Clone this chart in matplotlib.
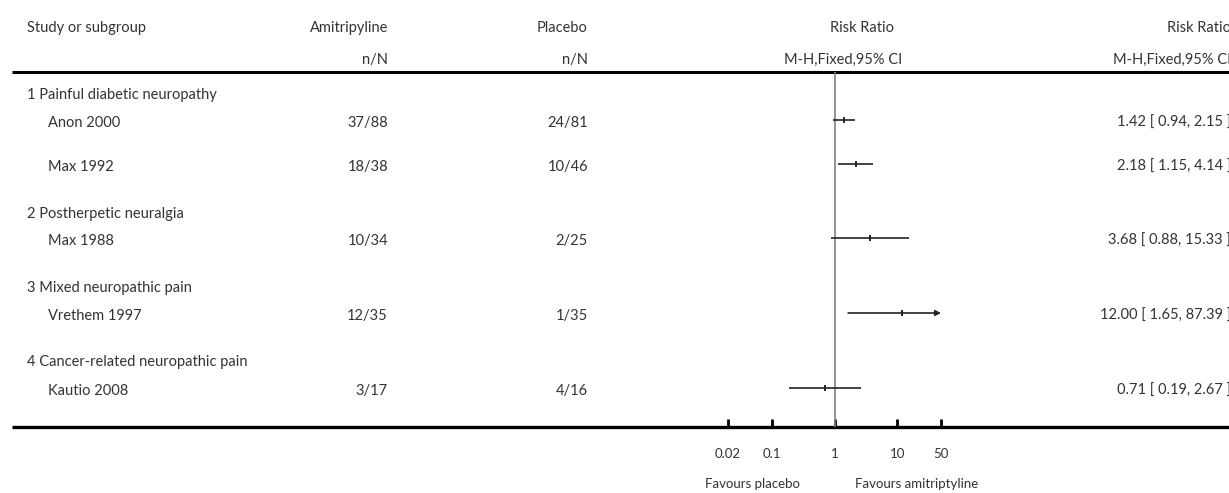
import numpy as np
import matplotlib
matplotlib.use('Agg')
import matplotlib.pyplot as plt

plt.rcParams['font.family'] = ['Lato', 'DejaVu Sans']

# forest plot data: amitriptyline vs placebo, risk ratio (M-H, fixed, 95% CI)
subgroups = ['1 Painful diabetic neuropathy', '2 Postherpetic neuralgia',
             '3 Mixed neuropathic pain', '4 Cancer-related neuropathic pain']
studies = ['Anon 2000', 'Max 1992', 'Max 1988', 'Vrethem 1997', 'Kautio 2008']
ami_n = ['37/88', '18/38', '10/34', '12/35', '3/17']
pla_n = ['24/81', '10/46', '2/25', '1/35', '4/16']
rr = [1.42, 2.18, 3.68, 12.00, 0.71]
rr_lo = [0.94, 1.15, 0.88, 1.65, 0.19]
rr_hi = [2.15, 4.14, 15.33, 87.39, 2.67]
ticks = [0.02, 0.1, 1, 10, 50]
tick_labels = ['0.02', '0.1', '1', '10', '50']

# layout in pixels (figure is 1229 x 493 at 100 dpi)
W, H = 1229, 493
group_y = [95, 214, 288, 362]
study_y = [120, 164, 238, 313, 388]
text_dy = 3
top_rule, bottom_rule = 72, 427
x_name, x_study, x_ami, x_pla, x_est = 27, 48, 388, 588, 1231
xmin, xmax = 0.02, 50
px_left, px_right = 728, 941

txt = '#333333'
fs = 10.5

fig = plt.figure(figsize=(W / 100, H / 100), dpi=100)
bg = fig.add_axes([0, 0, 1, 1])
bg.set_xlim(0, W)
bg.set_ylim(H, 0)
bg.axis('off')


def cell(x, y, s, ha):
    bg.text(x, y, s, ha=ha, va='center', fontsize=fs, color=txt)


# column headers
cell(x_name, 28, 'Study or subgroup', 'left')
cell(x_ami, 28, 'Amitripyline', 'right')
cell(x_ami, 60, 'n/N', 'right')
cell(x_pla, 28, 'Placebo', 'right')
cell(x_pla, 60, 'n/N', 'right')
cell(862, 28, 'Risk Ratio', 'center')
cell(843, 60, 'M-H,Fixed,95% CI', 'center')
cell(x_est, 28, 'Risk Ratio', 'right')
cell(x_est, 60, 'M-H,Fixed,95% CI', 'right')

# horizontal rules
bg.plot([12, W], [top_rule, top_rule], color='black', lw=2.2, solid_capstyle='butt')
bg.plot([12, W], [bottom_rule, bottom_rule], color='black', lw=2.4, solid_capstyle='butt')

for name, y in zip(subgroups, group_y):
    cell(x_name, y, name, 'left')

for i, y in enumerate(study_y):
    ty = y + text_dy
    cell(x_study, ty, studies[i], 'left')
    cell(x_ami, ty, ami_n[i], 'right')
    cell(x_pla, ty, pla_n[i], 'right')
    cell(x_est, ty, '%.2f [ %.2f, %.2f ]' % (rr[i], rr_lo[i], rr_hi[i]), 'right')

# forest panel on a log scale
ax = fig.add_axes([px_left / W, (H - bottom_rule) / H,
                   (px_right - px_left) / W, (bottom_rule - top_rule) / H])
ax.patch.set_alpha(0)
ax.set_xscale('log')
ax.set_xlim(xmin, xmax)
ax.set_ylim(bottom_rule, top_rule)
for s in ['top', 'left', 'right', 'bottom']:
    ax.spines[s].set_visible(False)
ax.set_yticks([])
ax.set_xticks(ticks)
ax.set_xticklabels(tick_labels)
ax.minorticks_off()
ax.tick_params(axis='x', direction='in', length=6, width=2, pad=15,
               labelsize=9.5, labelcolor=txt, color='black')

ax.axvline(1, color='#808080', lw=1.2)

for i, y in enumerate(study_y):
    lo = max(rr_lo[i], xmin)
    hi = min(rr_hi[i], xmax)
    if rr_hi[i] > xmax:
        ax.annotate('', xy=(hi, y), xytext=(lo, y),
                    arrowprops=dict(arrowstyle='-|>', color='#222222', lw=1.2,
                                    mutation_scale=8, shrinkA=0, shrinkB=0))
    else:
        ax.plot([lo, hi], [y, y], color='#222222', lw=1.2, solid_capstyle='butt')
    ax.plot(rr[i], y, marker='|', ms=5, mew=1.4, color='#222222')

ax.text(10 ** -1.317, 484, 'Favours placebo', ha='center', va='center',
        fontsize=9.5, color=txt, clip_on=False)
ax.text(10 ** 1.317, 484, 'Favours amitriptyline', ha='center', va='center',
        fontsize=9.5, color=txt, clip_on=False)

fig.savefig('out.png', dpi=100)
